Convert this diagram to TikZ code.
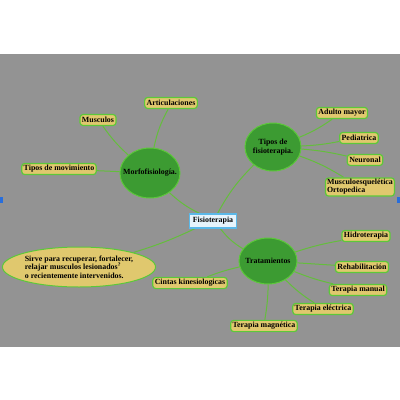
\documentclass[tikz,border=0pt]{standalone}
\usepackage{fontspec}
\setmainfont{Liberation Serif}
\usetikzlibrary{shapes.geometric,backgrounds}

\definecolor{bggray}{RGB}{147,147,147}
\definecolor{leaffill}{RGB}{224,200,110}
\definecolor{leafline}{RGB}{92,200,58}
\definecolor{hubfill}{RGB}{60,155,50}
\definecolor{linkgreen}{RGB}{100,190,60}
\definecolor{rootfill}{RGB}{230,244,252}
\definecolor{rootline}{RGB}{91,184,232}
\definecolor{edgeblue}{RGB}{40,110,220}

\tikzset{
  leaf/.style={draw=leafline, line width=1.2pt, fill=leaffill, rounded corners=3pt,
    inner sep=2pt, minimum height=11pt, font=\fontsize{7.9}{8}\selectfont\bfseries},
  hub/.style={ellipse, draw=leafline, line width=1pt, fill=hubfill, inner xsep=-6pt,
    inner ysep=0pt, align=center, font=\fontsize{7.9}{8.6}\selectfont\bfseries},
  link/.style={draw=linkgreen, line width=1pt}
}

\begin{document}
\begin{tikzpicture}[x=1pt, y=-1pt]
    \useasboundingbox (0,0) rectangle (400,400);

    % main topic and the four branches
    \node (fisio) [draw=rootline, line width=1.2pt, fill=rootfill, inner sep=2pt,
      minimum width=47pt, minimum height=14pt, font=\fontsize{7.9}{8}\selectfont\bfseries]
      at (213,221) {Fisioterapia};
    \node (morfo) [hub, minimum width=60pt, minimum height=50pt] at (150,173) {Morfofisiolog\'ia.};
    \node (tipos) [hub, minimum width=56pt, minimum height=48pt] at (273,147) {Tipos de\\fisioterapia.};
    \node (trat) [hub, minimum width=58pt, minimum height=46pt] at (268,261) {Tratamientos};
    \node (sirve) [ellipse, draw=leafline, line width=1pt, fill=leaffill, inner sep=0pt,
      minimum width=150pt, minimum height=40pt, align=left,
      font=\fontsize{7.9}{8.4}\selectfont\bfseries] at (79,267)
      {Sirve para recuperar, fortalecer,\\relajar musculos lesionados\textsuperscript{?}\\o recientemente intervenidos.};

    % leaves
    \node (artic) [leaf] at (171,103) {Articulaciones};
    \node (musc) [leaf] at (98,120) {Musculos};
    \node (movim) [leaf] at (59,169) {Tipos de movimiento};
    \node (adulto) [leaf] at (342,113) {Adulto mayor};
    \node (pedia) [leaf] at (359,138) {Pediatrica};
    \node (neuro) [leaf] at (365,160) {Neuronal};
    \node (orto) [leaf, align=left, inner sep=1.5pt] at (360,187) {Musculoesquel\'etica\\Ortopedica};
    \node (hidro) [leaf] at (366,236) {Hidroterapia};
    \node (rehab) [leaf] at (362,267) {Rehabilitaci\'on};
    \node (manual) [leaf] at (358,290) {Terapia manual};
    \node (elect) [leaf] at (323,309) {Terapia el\'ectrica};
    \node (magne) [leaf] at (264,326) {Terapia magn\'etica};
    \node (cintas) [leaf] at (190,283) {Cintas kinesiologicas};

    % backdrop and connectors, behind the nodes
    \begin{scope}[on background layer]
    \fill [bggray] (0,54) rectangle (400,347);
    \fill [edgeblue] (0,197) rectangle (3,203);
    \fill [edgeblue] (397,197) rectangle (400,203);
    \draw [link] (fisio) to[bend left=8] (morfo);
    \draw [link] (fisio) to[bend left=8] (tipos);
    \draw [link] (fisio) to[bend right=10] (trat);
    \draw [link] (fisio) to[bend left=4] (sirve);
    \draw [link] (morfo) to[bend left=8] (artic);
    \draw [link] (morfo) to[bend left=6] (musc);
    \draw [link] (morfo) -- (movim);
    \draw [link] (tipos) to[bend right=6] (adulto);
    \draw [link] (tipos) to[bend right=4] (pedia);
    \draw [link] (tipos) to[bend left=4] (neuro);
    \draw [link] (tipos) to[bend left=6] (orto);
    \draw [link] (trat) to[bend left=4] (hidro);
    \draw [link] (trat) -- (rehab);
    \draw [link] (trat) to[bend right=4] (manual);
    \draw [link] (trat) to[bend right=6] (elect);
    \draw [link] (trat) to[bend left=4] (magne);
    \draw [link] (trat) to[bend right=4] (cintas);
    \end{scope}
\end{tikzpicture}
\end{document}
